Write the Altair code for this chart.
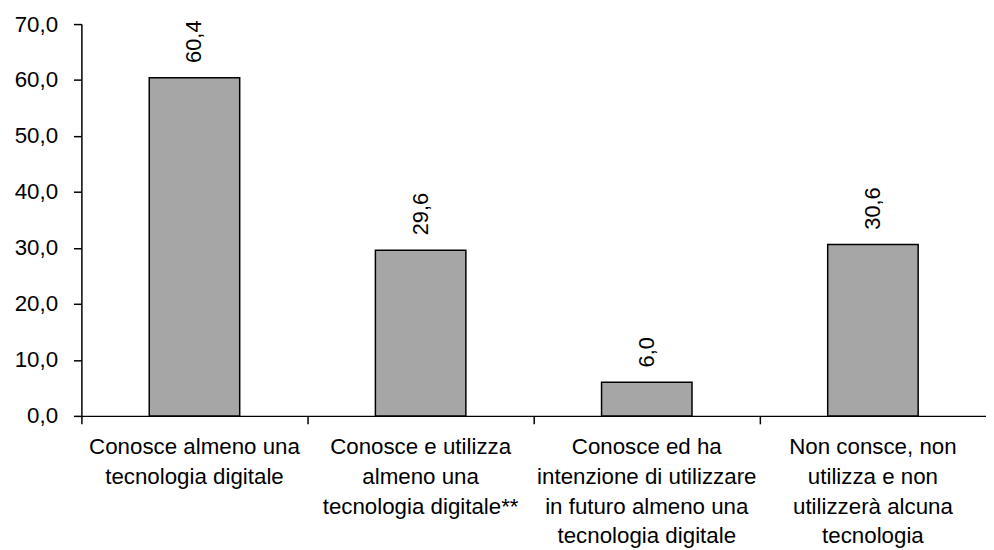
import altair as alt
import pandas as pd

categories = [
    "Conosce almeno una|tecnologia digitale",
    "Conosce e utilizza|almeno una|tecnologia digitale**",
    "Conosce ed ha|intenzione di utilizzare|in futuro almeno una|tecnologia digitale",
    "Non consce, non|utilizza e non|utilizzerà alcuna|tecnologia",
]
values = [60.4, 29.6, 6.0, 30.6]

df = pd.DataFrame({"cat": categories, "value": values})

FONT = "Liberation Sans"

base = alt.Chart(df).encode(
    x=alt.X(
        "cat:N",
        sort=None,
        title=None,
        scale=alt.Scale(paddingInner=0, paddingOuter=0),
        axis=alt.Axis(
            bandPosition=0,
            labelAngle=0,
            labelExpr="split(datum.label, '|')",
            labelLineHeight=30,
            labelFontSize=22.5,
            labelFont=FONT,
            labelColor="black",
            labelPadding=12,
            labelLimit=400,
            labelBaseline="top",
            tickSize=8,
            tickColor="black",
            tickWidth=1.5,
            domainColor="black",
            domainWidth=1.5,
            grid=False,
        ),
    ),
)

bars = base.mark_bar(
    width=alt.RelativeBandSize(0.4),
    color="#a6a6a6",
    stroke="black",
    strokeWidth=1.5,
).encode(
    y=alt.Y(
        "value:Q",
        title=None,
        scale=alt.Scale(domain=[0, 70], nice=False),
        axis=alt.Axis(
            values=[0, 10, 20, 30, 40, 50, 60, 70],
            labelExpr="replace(format(datum.value, '.1f'), '.', ',')",
            labelFontSize=22.5,
            labelFont=FONT,
            labelColor="black",
            labelPadding=16,
            tickSize=8,
            tickColor="black",
            tickWidth=1.5,
            domainColor="black",
            domainWidth=1.5,
            grid=False,
        ),
    )
)

labels = base.transform_calculate(
    lab="replace(format(datum.value, '.1f'), '.', ',')"
).mark_text(
    angle=270,
    align="left",
    baseline="middle",
    dx=15,
    fontSize=22,
    font=FONT,
    color="black",
).encode(
    y="value:Q",
    text="lab:N",
)

chart = (
    alt.layer(bars, labels)
    .properties(
        width=912,
        height=395,
        autosize=alt.AutoSizeParams(type="none"),
        padding={"left": 74, "top": 14, "right": 0, "bottom": 133},
        background="white",
    )
    .configure_view(stroke=None)
)

chart.save("out.html", embed_options={"renderer": "svg", "actions": False})
